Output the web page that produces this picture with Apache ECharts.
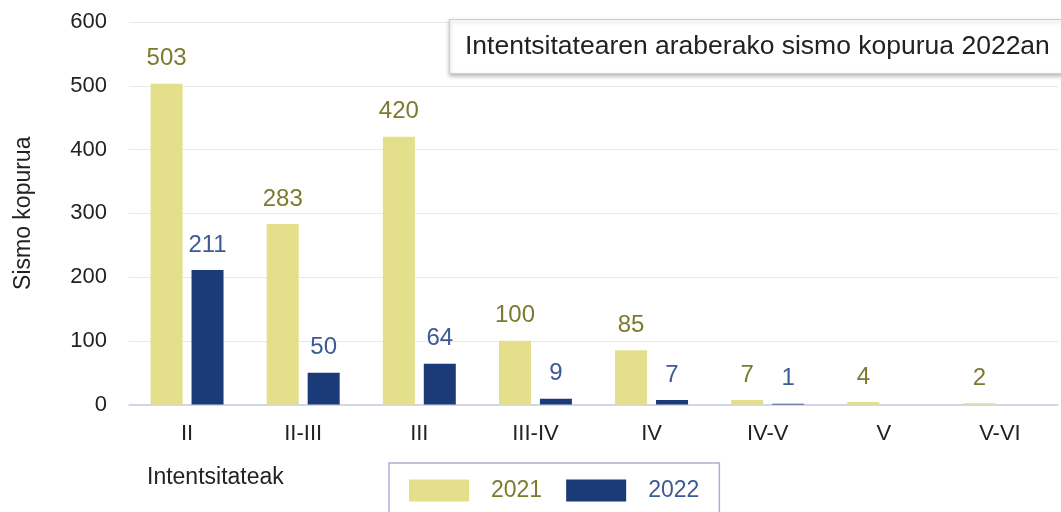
<!DOCTYPE html>
<html>
<head>
<meta charset="utf-8">
<script src="https://cdn.jsdelivr.net/npm/echarts@6/dist/echarts.min.js"></script>
<style>html,body{margin:0;padding:0;background:#fff}#c{width:1061px;height:512px}</style>
</head>
<body>
<div id="c"></div>
<script>
var categories = ['II', 'II-III', 'III', 'III-IV', 'IV', 'IV-V', 'V', 'V-VI'];
var values2021 = [503, 283, 420, 100, 85, 7, 4, 2];
var values2022 = [211, 50, 64, 9, 7, 1, 0, 0];
var seriesNames = ['2021', '2022'];
var yTicks = [0, 100, 200, 300, 400, 500, 600];
var titleText = 'Intentsitatearen araberako sismo kopurua 2022an';
var yAxisName = 'Sismo kopurua';
var xAxisName = 'Intentsitateak';

var FONT = '"Liberation Sans", Arial, sans-serif';
var c2021 = '#E3DF8B', c2022 = '#1B3A78';
var t2021 = '#7B7A2E', t2022 = '#3D5A97';

var chart = echarts.init(document.getElementById('c'), null, {renderer: 'canvas'});
function lbl(color) {
  return {
    show: true, position: 'top', distance: 13,
    fontFamily: FONT, fontSize: 24, color: color,
    formatter: function (p) { return p.value === 0 ? '' : String(p.value); }
  };
}
chart.setOption({
  animation: false,
  backgroundColor: '#ffffff',
  textStyle: {fontFamily: FONT},
  title: {
    text: titleText,
    left: 449, top: 19,
    padding: [14, 60, 14, 16],
    backgroundColor: '#ffffff',
    borderColor: '#C9CDE2', borderWidth: 1.2,
    shadowColor: 'rgba(0,0,0,0.25)', shadowBlur: 4, shadowOffsetY: 2, shadowOffsetX: 0,
    textStyle: {fontFamily: FONT, fontSize: 26.5, fontWeight: 'normal', color: '#222222'}
  },
  legend: {
    left: 389, top: 463,
    padding: [16, 20, 16, 20],
    borderColor: '#A9B1D2', borderWidth: 1.5,
    itemWidth: 60, itemHeight: 22, itemGap: 24,
    icon: 'rect',
    textStyle: {fontFamily: FONT, fontSize: 23, padding: [0, 0, 0, 17]},
    data: [
      {name: seriesNames[0], textStyle: {color: t2021}},
      {name: seriesNames[1], textStyle: {color: t2022}}
    ]
  },
  graphic: [{
    type: 'text', left: 147, top: 466,
    style: {text: xAxisName, fontFamily: FONT, fontSize: 23, fill: '#222222'}
  }],
  grid: {left: 129, right: 3, top: 22, bottom: 107.5},
  xAxis: {
    type: 'category', data: categories,
    axisLine: {lineStyle: {color: '#C5CCE4', width: 1.5}},
    axisTick: {show: false},
    axisLabel: {fontFamily: FONT, fontSize: 22, color: '#222222', margin: 18, interval: 0}
  },
  yAxis: {
    type: 'value', min: yTicks[0], max: yTicks[yTicks.length - 1], interval: 100,
    name: yAxisName, nameLocation: 'middle', nameGap: 94, nameRotate: 90,
    nameTextStyle: {fontFamily: FONT, fontSize: 23, color: '#222222'},
    axisLine: {show: false}, axisTick: {show: false},
    axisLabel: {fontFamily: FONT, fontSize: 22, color: '#222222', margin: 22},
    splitLine: {lineStyle: {color: '#E8E8E8', width: 1.2}}
  },
  series: [
    {name: seriesNames[0], type: 'bar', data: values2021, barWidth: 32, barGap: '28%',
     itemStyle: {color: c2021}, label: lbl(t2021)},
    {name: seriesNames[1], type: 'bar', data: values2022, barWidth: 32, barGap: '28%',
     itemStyle: {color: c2022}, label: lbl(t2022)}
  ]
});
</script>
</body>
</html>
